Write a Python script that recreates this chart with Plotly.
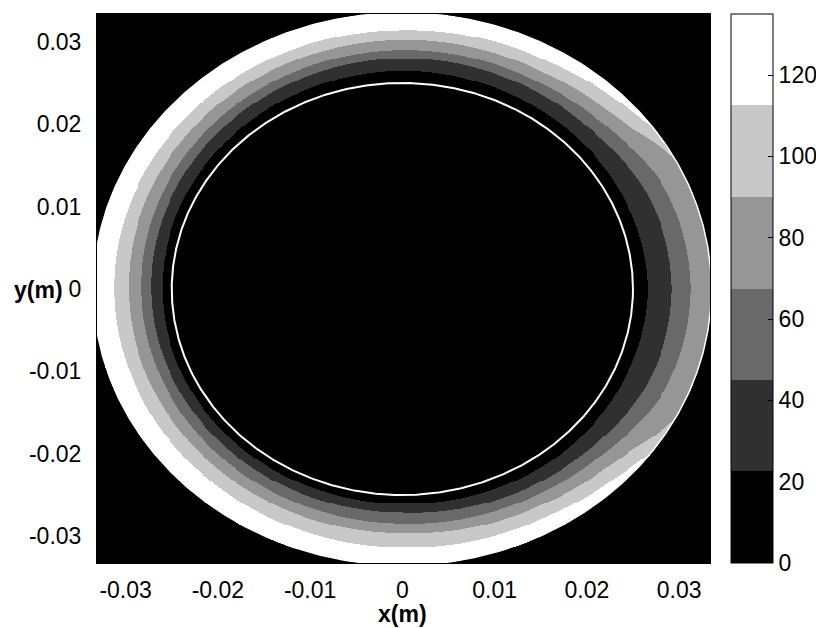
import numpy as np
import plotly.graph_objects as go

# ---- data ----
# contour levels (colorbar) and band colours
levels = [0, 22.5, 45, 67.5, 90, 112.5, 135]
band_colors = ["rgb(0,0,0)", "rgb(48,48,48)", "rgb(105,105,105)",
               "rgb(150,150,150)", "rgb(200,200,200)", "rgb(255,255,255)"]
cbar_ticks = [0, 20, 40, 60, 80, 100, 120]

# annulus radii (m)
r_inner = 0.025
r_outer = 0.0335

# polar angle (deg) and radius (mm) where each contour level is crossed
angles_deg = [0, 15, 25, 32, 38, 45, 60, 90, 135, 180, 225, 270, 300, 315, 322, 328, 335, 345]
r_lvl1_mm = [26.6, 26.5, 26.4, 26.4, 26.4, 26.4, 26.4, 26.5, 26.2, 26.0, 26.0, 26.0, 26.3, 26.4, 26.4, 26.4, 26.4, 26.5]
r_lvl2_mm = [29.2, 29.1, 28.9, 28.6, 28.3, 28.1, 28.0, 28.0, 27.6, 27.2, 27.1, 27.1, 27.7, 28.0, 28.3, 28.6, 28.9, 29.1]
r_lvl3_mm = [31.2, 31.1, 30.9, 30.4, 29.9, 29.5, 29.1, 29.0, 28.7, 28.25, 28.3, 28.4, 28.9, 29.4, 29.9, 30.4, 30.9, 31.1]
r_lvl4_mm = [34.8, 34.5, 34.0, 32.8, 31.6, 31.0, 30.4, 30.2, 30.0, 29.65, 29.6, 29.6, 30.2, 30.9, 31.6, 32.8, 34.0, 34.5]
r_lvl5_mm = [36.5, 36.0, 35.4, 34.3, 33.2, 32.6, 31.8, 31.4, 31.4, 31.2, 31.2, 31.3, 31.7, 32.5, 33.2, 34.3, 35.4, 36.0]

x_ticks = [-0.03, -0.02, -0.01, 0, 0.01, 0.02, 0.03]
x_ticktext = ["-0.03", "-0.02", "-0.01", "0", "0.01", "0.02", "0.03"]
y_ticks = [-0.03, -0.02, -0.01, 0, 0.01, 0.02, 0.03]
y_ticktext = ["-0.03", "-0.02", "-0.01", "0", "0.01", "0.02", "0.03"]

# ---- build the field on a grid from the read contour radii ----
nx, ny = 640, 580
xg = np.linspace(-0.0336, 0.0336, nx)
yg = np.linspace(-0.0336, 0.0336, ny)
X, Y = np.meshgrid(xg, yg)
R = np.hypot(X, Y)
T = np.degrees(np.arctan2(Y, X)) % 360

bounds = [np.full(R.shape, r_inner)]
for arr in (r_lvl1_mm, r_lvl2_mm, r_lvl3_mm, r_lvl4_mm, r_lvl5_mm):
    bounds.append(np.interp(T, angles_deg, arr, period=360) / 1000.0)

step = levels[1] - levels[0]
Z = np.minimum(134.0, levels[5] + (R - bounds[5]) / (bounds[5] - bounds[4]) * step)
for k in range(4, -1, -1):
    m = R < bounds[k + 1]
    Z[m] = levels[k] + (R[m] - bounds[k][m]) / (bounds[k + 1][m] - bounds[k][m]) * step
inside = (R >= r_inner) & (R <= r_outer)
Z = np.round(Z, 1)
z_list = [[(float(v) if ok else None) for v, ok in zip(row, okrow)] for row, okrow in zip(Z, inside)]

# stepped grayscale
n = len(band_colors)
cscale = []
for i, c in enumerate(band_colors):
    cscale.append([i / n, c])
    cscale.append([(i + 1) / n, c])

fig = go.Figure()
fig.add_trace(go.Heatmap(
    x=xg, y=yg, z=z_list, zmin=levels[0], zmax=levels[-1],
    colorscale=cscale, zsmooth=False, hoverinfo="skip",
    colorbar=dict(
        x=1.034, xanchor="left", xref="paper", y=0.5, yanchor="middle",
        len=1, lenmode="fraction", ypad=0, xpad=0,
        thickness=42, thicknessmode="pixels",
        outlinewidth=1, outlinecolor="black",
        tickvals=cbar_ticks, ticks="inside", ticklen=5, tickcolor="black",
        tickprefix="\u00a0\u00a0",
        tickfont=dict(family="Liberation Sans, Arial", size=23, color="black"),
    ),
))

th = np.linspace(0, 2 * np.pi, 721)
for rad, w in ((r_inner, 2), (r_outer, 1.5)):
    fig.add_trace(go.Scatter(x=rad * np.cos(th), y=rad * np.sin(th), mode="lines",
                             line=dict(color="white", width=w), hoverinfo="skip",
                             showlegend=False))

font = dict(family="Liberation Sans, Arial", size=23, color="black")
# the page body adds an 8 px offset, so the figure is 8 px smaller and the
# left/top margins are reduced by 8 px
fig.update_layout(
    width=816, height=620,
    margin=dict(l=89, r=114, t=6, b=65, autoexpand=False),
    paper_bgcolor="white", plot_bgcolor="black",
    showlegend=False,
    xaxis=dict(range=[-0.0331, 0.03335], tickvals=x_ticks, ticktext=x_ticktext,
               showgrid=False, zeroline=False, ticks="", tickfont=font,
               showline=True, linecolor="black", mirror=True, ticklabelstandoff=6),
    yaxis=dict(range=[-0.03325, 0.03337], tickvals=y_ticks, ticktext=y_ticktext,
               showgrid=False, zeroline=False, ticks="", tickfont=font,
               showline=True, linecolor="black", mirror=True, ticklabelstandoff=10),
    annotations=[
        dict(text="<b>x(m)</b>", xref="paper", yref="paper", x=0.499, y=-0.093,
             xanchor="center", yanchor="middle", showarrow=False,
             font=dict(family="Liberation Sans, Arial", size=23, color="black")),
        dict(text="<b>y(m)</b>", xref="paper", yref="paper", x=-0.052, y=0.497,
             xanchor="right", yanchor="middle", showarrow=False,
             font=dict(family="Liberation Sans, Arial", size=23, color="black")),
    ],
)

fig.write_html("out.html")
